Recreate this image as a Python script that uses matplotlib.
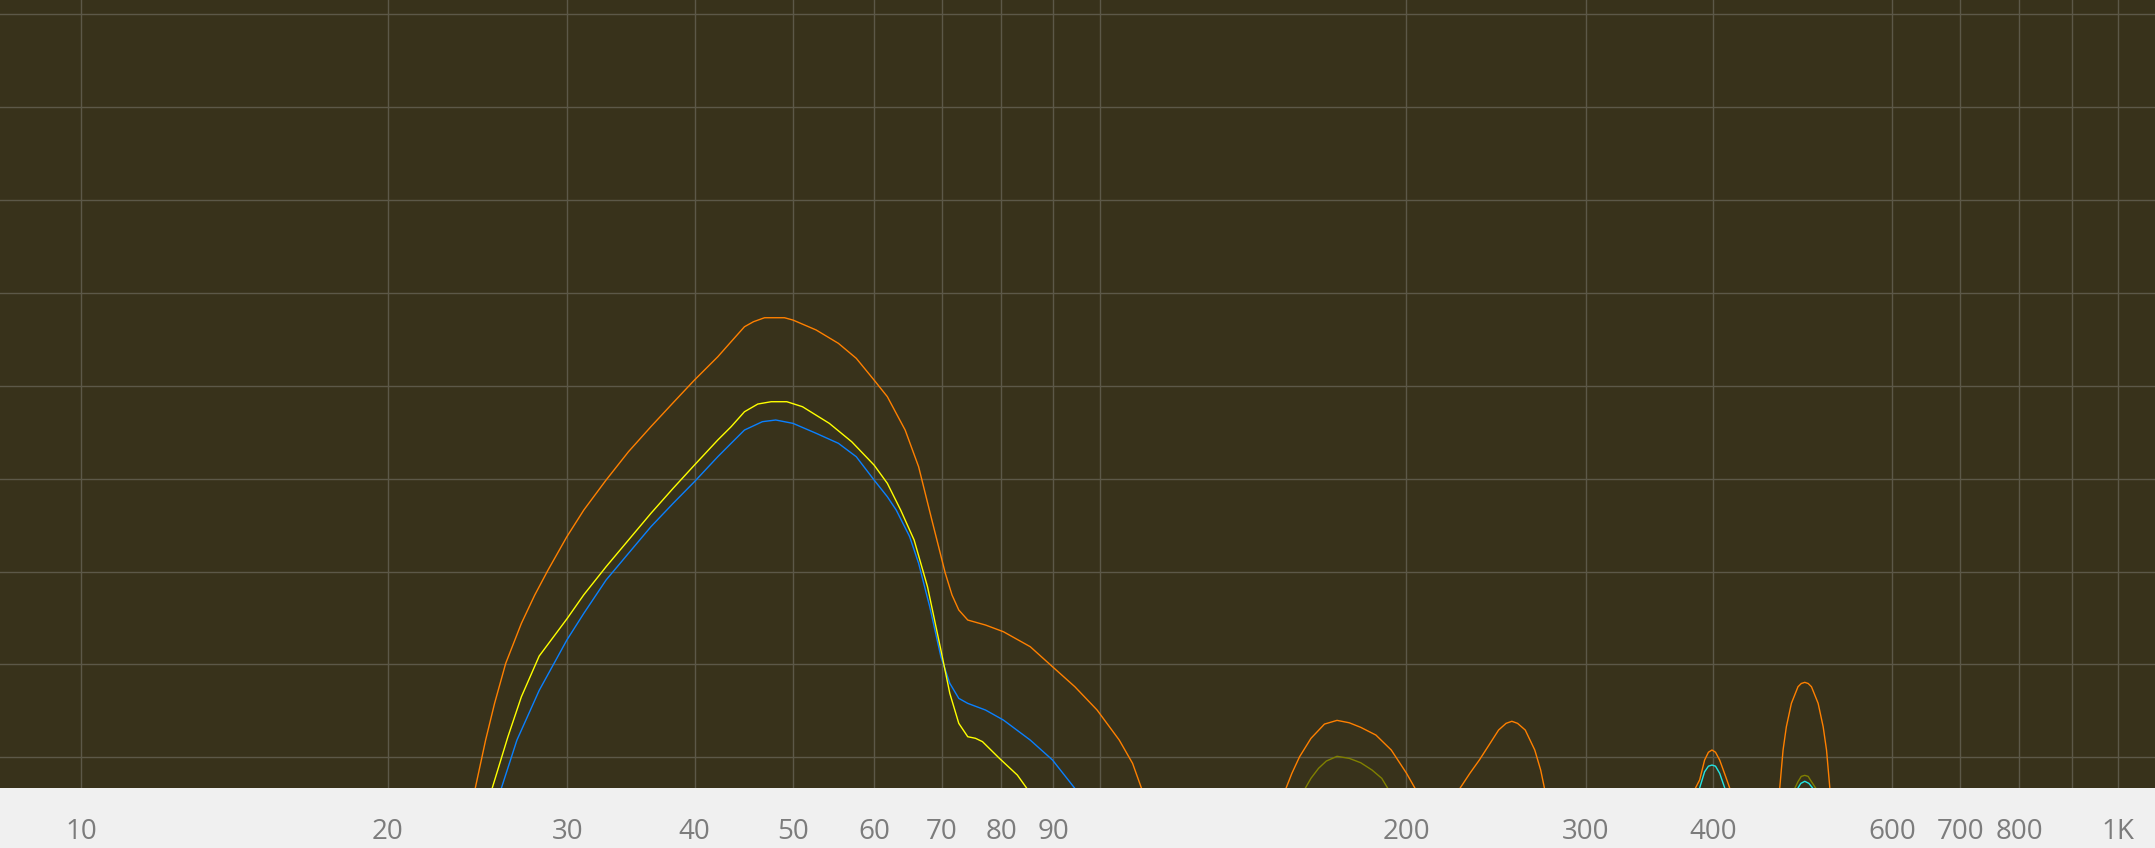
import matplotlib
matplotlib.use("Agg")
import matplotlib.pyplot as plt

# ---- data (frequency in Hz, level in grid units; grid step = 10) ----
grid_freqs = [10, 20, 30, 40, 50, 60, 70, 80, 90, 100, 200, 300, 400, 600, 700, 800, 900, 1000]
tick_labels = ['10', '20', '30', '40', '50', '60', '70', '80', '90', '', '200', '300', '400',
               '600', '700', '800', '', '1K']
level_grid = [0, 10, 20, 30, 40, 50, 60, 70, 80]

orange_f = [22.0, 24.36, 24.94, 25.45, 26.10, 27.04, 27.87, 28.72, 29.97, 31.14, 32.75, 34.45,
            36.24, 38.11, 39.99, 42.16, 43.45, 44.78, 45.70, 46.86, 49.02, 49.97, 52.66, 55.38,
            57.66, 60.03, 61.86, 63.11, 64.40, 66.39, 67.39, 68.41, 69.46, 70.52, 71.60, 72.70,
            74.19, 77.24, 80.43, 85.45, 89.87, 94.52, 99.4, 104.5, 107.7, 109.9, 115, 130, 148,
            152.4, 154.4, 157.1, 161.2, 166.2, 171.0, 175.8, 180.4, 186.7, 193.3, 200.1, 203.9,
            210, 220,
            225.9, 230.9, 235.9, 241.1, 246.4, 250.6, 253.9, 257.2, 261.7, 267.4, 271.0, 273.3,
            280, 330, 380,
            384.6, 388.2, 392.6, 396.0, 399.2, 402.4, 406.2, 411.8, 415.5, 420, 440, 460,
            465.3, 468.8, 472.3, 477.7, 484.9, 488.5, 492.4, 496.2, 499.9, 507.5, 513.3, 517.2,
            521.1, 526, 560]
orange_v = [-20, -3.34, 1.86, 5.81, 10.12, 14.42, 17.47, 20.16, 23.75, 26.62, 29.85, 32.90,
            35.59, 38.17, 40.61, 43.12, 44.74, 46.35, 46.89, 47.32, 47.32, 47.07, 46.0, 44.56,
            42.95, 40.61, 38.82, 37.03, 35.23, 31.28, 28.42, 25.54, 22.67, 19.81, 17.47, 15.86,
            14.78, 14.24, 13.52, 11.91, 9.75, 7.60, 5.09, 1.86, -0.65, -3.34, -8, -14, -8,
            -3.3, -1.72, 0.06, 2.04, 3.58, 3.98, 3.72, 3.23, 2.40, 0.79, -1.72, -3.3,
            -7, -7,
            -3.3, -1.72, -0.29, 1.32, 2.94, 3.66, 3.88, 3.66, 2.94, 0.79, -1.37, -3.3,
            -10, -18, -10,
            -3.3, -2.44, -0.29, 0.55, 0.79, 0.55, -0.29, -2.09, -3.3, -8, -12, -8,
            -3.3, 0.79, 3.29, 5.81, 7.6, 7.95, 8.07, 7.95, 7.6, 5.81, 3.29, 0.79,
            -3.3, -10, -20]

yellow_f = [23.5, 25.31, 26.23, 27.04, 28.15, 29.97, 31.14, 32.75, 34.45, 36.24, 38.11, 39.99,
            42.16, 43.45, 44.78, 46.15, 47.57, 49.28, 51.06, 54.25, 57.07, 60.03, 61.86, 63.75,
            65.72, 67.74, 69.82, 71.24, 72.70, 74.19, 75.5, 76.7, 79.7, 83.0, 84.75, 90]
yellow_v = [-15, -3.34, 2.22, 6.52, 10.9, 14.9, 17.5, 20.52, 23.39, 26.26, 28.96, 31.46,
            34.16, 35.59, 37.20, 38.03, 38.28, 38.28, 37.74, 35.95, 33.97, 31.46, 29.49, 26.62,
            23.39, 18.36, 11.55, 6.89, 3.66, 2.22, 2.05, 1.69, -0.11, -1.91, -3.3, -10]

blue_f = [24.0, 25.84, 26.77, 28.15, 29.97, 31.14, 32.75, 34.45, 36.24, 38.11, 39.99, 42.16,
          43.45, 44.78, 46.63, 48.06, 49.97, 52.66, 55.38, 57.66, 60.03, 61.86, 63.11, 65.06,
          66.39, 68.08, 69.82, 71.24, 72.70, 74.19, 77.24, 80.43, 85.45, 89.87, 94.52, 100]
blue_v = [-15, -3.34, 1.86, 7.2, 12.63, 15.50, 19.09, 21.96, 24.82, 27.34, 29.67, 32.36,
          33.80, 35.23, 36.13, 36.31, 35.95, 34.88, 33.80, 32.36, 29.85, 28.05, 26.62, 23.75,
          20.88, 16.21, 10.83, 7.97, 6.35, 5.81, 5.09, 4.01, 1.86, -0.29, -3.34, -10]

olive_f = [140, 159.2, 161.2, 164.0, 166.9, 171.0, 175.8, 180.4, 185.1, 189.2, 191.7, 200,
           300, 470, 481.6, 484.9, 488.5, 492.4, 496.2, 499.9, 504.6, 520]
olive_v = [-15, -3.3, -2.26, -1.18, -0.40, 0.11, -0.11, -0.58, -1.37, -2.26, -3.3, -10,
           -20, -10, -3.3, -2.62, -2.05, -1.94, -2.05, -2.62, -3.3, -10]

cyan_f = [370, 388.2, 392.6, 396.0, 399.2, 402.4, 406.2, 410.9, 430, 470,
          484.9, 488.0, 492.4, 497.0, 501.2, 520]
cyan_v = [-15, -3.3, -1.55, -0.95, -0.83, -0.95, -1.72, -3.3, -12, -12,
          -3.3, -2.8, -2.58, -2.8, -3.3, -12]

series = [
    (olive_f, olive_v, '#808000'),
    (cyan_f, cyan_v, '#22e4e4'),
    (blue_f, blue_v, '#0a80ff'),
    (yellow_f, yellow_v, '#ffff00'),
    (orange_f, orange_v, '#ff8000'),
]

# ---- figure ----
W, H = 2155, 848
fig = plt.figure(figsize=(W / 100, H / 100), dpi=100, facecolor='#f0f0f0')
ax = fig.add_axes([0, 60 / H, 1, 788 / H])
ax.set_facecolor('#38321b')
ax.set_xscale('log')
ax.set_xlim(8.318, 1087)
ax.set_ylim(-3.3, 81.52)

for v in level_grid:
    ax.axhline(v, color='#5c5848', lw=1.0, zorder=1)
for f in grid_freqs:
    ax.axvline(f, color='#5c5848', lw=1.0, zorder=1)

for fx, vy, c in series:
    ax.plot(fx, vy, color=c, lw=1.0, zorder=3, solid_joinstyle='round')

for s in ax.spines.values():
    s.set_visible(False)

ax.xaxis.set_minor_locator(matplotlib.ticker.NullLocator())
ax.set_xticks(grid_freqs)
ax.set_xticklabels(tick_labels, fontfamily='Open Sans', fontsize=20, color='#7c7c7c')
ax.xaxis.set_minor_formatter(matplotlib.ticker.NullFormatter())
ax.tick_params(axis='x', length=0, pad=32)
for lbl in ax.get_xticklabels():
    lbl.set_verticalalignment('center')
ax.set_yticks([])

fig.savefig('out.png', dpi=100, facecolor=fig.get_facecolor())
